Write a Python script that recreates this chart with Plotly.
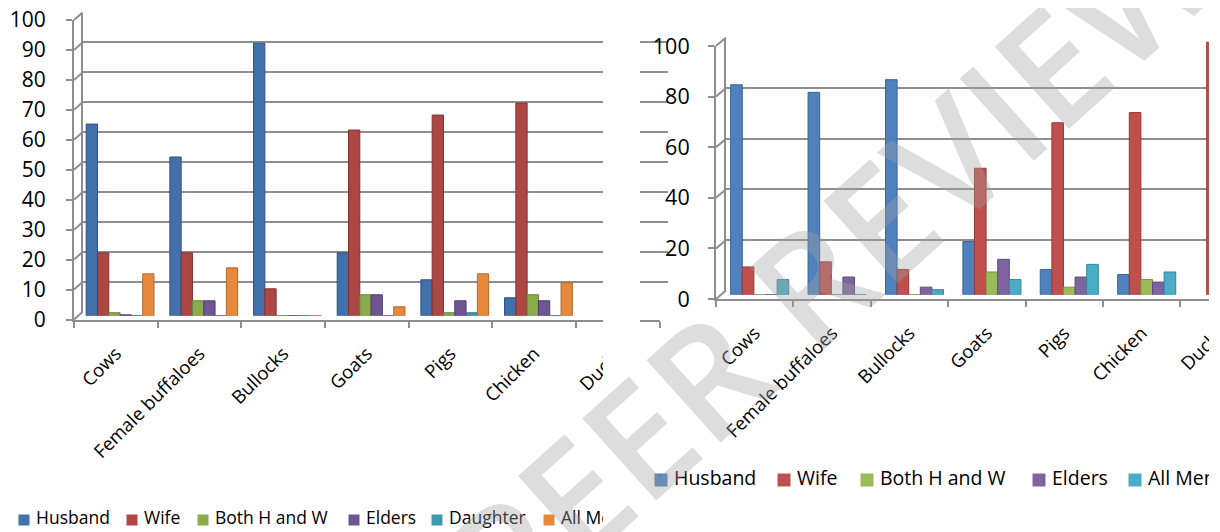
import plotly.graph_objects as go

# page (viewport) size and the body margin the page adds around the figure
PW, PH = 1220, 532
OFF = 8
W, H = PW - OFF, PH - OFF

# ---------------- data ----------------
categories = ["Cows", "Female buffaloes", "Bullocks", "Goats", "Pigs", "Chicken", "Ducks"]

left_series = ["Husband", "Wife", "Both H and W", "Elders", "Daughter", "All Members"]
left_husband = [64, 53, 91, 21, 12, 6, None]
left_wife = [21, 21, 9, 62, 67, 71, None]
left_both = [1, 5, 0, 7, 1, 7, None]
left_elders = [0.3, 5, 0, 7, 5, 5, None]
left_daughter = [0, 0, 0, 0, 1, 0, None]
left_all = [14, 16, 0, 3, 14, 11, None]
left_values = [left_husband, left_wife, left_both, left_elders, left_daughter, left_all]

right_series = ["Husband", "Wife", "Both H and W", "Elders", "All Members"]
right_husband = [83, 80, 85, 21, 10, 8, None]
right_wife = [11, 13, 10, 50, 68, 72, 100]
right_both = [0, 0, 0, 9, 3, 6, None]
right_elders = [0, 7, 3, 14, 7, 5, None]
right_all = [6, 0, 2, 6, 12, 9, None]
right_values = [right_husband, right_wife, right_both, right_elders, right_all]

left_ticks = list(range(0, 101, 10))
right_ticks = list(range(0, 101, 20))

# ---------------- style ----------------
left_colors = ["#4270AB", "#AD4743", "#8AAA4C", "#6F5594", "#3E9AB3", "#E5893C"]
left_edges = ["#2E5285", "#833230", "#66823A", "#513E70", "#2C7489", "#B5692B"]
right_colors = ["#4F81BD", "#C0504D", "#9BBB59", "#8064A2", "#4BACC6"]
right_edges = ["#3A6494", "#963B38", "#789346", "#5F4A7C", "#36869B"]

GRID = "#8E8E8E"
FONT = "Open Sans"


def fx(px):
    return min(max((px - OFF) / W, 0.0), 1.0)


def fy(py):
    return min(max(1 - (py - OFF) / H, 0.0), 1.0)


def ref(n, kind):
    return kind if n == 1 else f"{kind}{n}"


def axkey(n, kind):
    return f"{kind}axis" if n == 1 else f"{kind}axis{n}"


fig = go.Figure()
layout_axes = {}
shapes = []


def build_chart(n0, x0_front, cat_w, y0_front, y100_front, dx, dy, ticks,
                series, values, colors, edges, bar_w, tick_font, cat_font, y_standoff, x_standoff):
    ncat = len(categories)
    parts = {"front": (n0, 0.0, 0.0), "back": (n0 + 1, dx, dy), "mid": (n0 + 2, dx / 2, dy / 2)}
    for key, (n, ox, oy) in parts.items():
        xs = x0_front + ox
        xe = min(xs + ncat * cat_w, PW)
        rng_end = -0.5 + (xe - xs) / cat_w
        y0 = y0_front + oy
        y100 = y100_front + oy
        xa = dict(domain=[fx(xs), fx(xe)], range=[-0.5, rng_end], type="category",
                  categoryorder="array", categoryarray=categories, automargin=False,
                  anchor=ref(n, "y"), fixedrange=True)
        ya = dict(domain=[fy(y0), fy(y100)], range=[0, 100], anchor=ref(n, "x"),
                  fixedrange=True, zeroline=False, automargin=False)
        if key == "front":
            xa.update(showline=True, linecolor=GRID, linewidth=2, ticks="outside",
                      tickson="boundaries", ticklen=6, tickwidth=2, tickcolor=GRID,
                      tickangle=-45, showgrid=False, ticklabeloverflow="allow",
                      ticklabelstandoff=x_standoff,
                      tickfont=dict(family=FONT, size=cat_font, color="#000000"))
            ya.update(showline=True, linecolor=GRID, linewidth=2, ticks="outside",
                      ticklen=6, tickwidth=2, tickcolor=GRID, showgrid=False,
                      tickvals=ticks, ticklabelstandoff=y_standoff,
                      ticklabeloverflow="allow",
                      tickfont=dict(family=FONT, size=tick_font, color="#000000"))
            fig.add_trace(go.Scatter(x=categories, y=[0] * ncat, mode="markers",
                                     marker=dict(opacity=0), hoverinfo="skip",
                                     showlegend=False, xaxis=ref(n, "x"), yaxis=ref(n, "y")))
        elif key == "back":
            xa.update(visible=False)
            ya.update(showline=True, linecolor=GRID, linewidth=2, showgrid=True,
                      gridcolor=GRID, gridwidth=2, tickvals=ticks, showticklabels=False,
                      ticks="")
            fig.add_trace(go.Scatter(x=categories, y=[0] * ncat, mode="markers",
                                     marker=dict(opacity=0), hoverinfo="skip",
                                     showlegend=False, xaxis=ref(n, "x"), yaxis=ref(n, "y")))
        else:
            xa.update(visible=False)
            ya.update(visible=False)
            ns = len(series)
            for i, (name, vals) in enumerate(zip(series, values)):
                fig.add_trace(go.Bar(
                    x=categories, y=vals, name=name, showlegend=False,
                    width=bar_w, offset=-ns * bar_w / 2 + i * bar_w,
                    marker=dict(color=colors[i], line=dict(color=edges[i], width=1)),
                    xaxis=ref(n, "x"), yaxis=ref(n, "y")))
        layout_axes[axkey(n, "x")] = xa
        layout_axes[axkey(n, "y")] = ya
    # 3D wall connectors from the front axis to the back wall
    unit = (y0_front - y100_front) / 100.0
    for v in ticks:
        yf = y0_front - v * unit
        shapes.append(dict(type="line", xref="paper", yref="paper",
                           x0=fx(x0_front), y0=fy(yf), x1=fx(x0_front + dx), y1=fy(yf + dy),
                           line=dict(color=GRID, width=2), layer="above"))


build_chart(1, 74, 83.67, 319.5, 20, 8.5, -7.5, left_ticks, left_series, left_values,
            left_colors, left_edges, 0.135, 21, 18.5, 16, 14)
build_chart(4, 716, 77.4, 299, 46, 10, -8.5, right_ticks, right_series, right_values,
            right_colors, right_edges, 0.15, 21.5, 18.5, 14, 14)


# ---------------- hand-made legends (clipped like the cropped source) ----------------
def build_legend(n, x_start, x_end, y_center, names, colors, text_x, sq_offset, sq_size, fsize):
    y_lo = min(y_center + 14, PH)
    y_hi = y_center - 14
    layout_axes[axkey(n, "x")] = dict(domain=[fx(x_start), fx(x_end)], range=[x_start, x_end],
                                      visible=False, fixedrange=True, anchor=ref(n, "y"),
                                      automargin=False)
    layout_axes[axkey(n, "y")] = dict(domain=[fy(y_lo), fy(y_hi)],
                                      range=[y_lo, y_hi], visible=False,
                                      fixedrange=True, anchor=ref(n, "x"), automargin=False)
    fig.add_trace(go.Scatter(x=[t - sq_offset for t in text_x], y=[y_center] * len(names),
                             mode="markers", marker=dict(symbol="square", size=sq_size, color=colors,
                                                         line=dict(width=0)),
                             hoverinfo="skip", showlegend=False, cliponaxis=True,
                             xaxis=ref(n, "x"), yaxis=ref(n, "y")))
    fig.add_trace(go.Scatter(x=text_x, y=[y_center] * len(names), mode="text", text=names,
                             textposition="middle right",
                             textfont=dict(family=FONT, size=fsize, color="#000000"),
                             hoverinfo="skip", showlegend=False, cliponaxis=True,
                             xaxis=ref(n, "x"), yaxis=ref(n, "y")))


left_legend_text_x = [36, 144, 215, 366, 449, 561]
right_legend_text_x = [674, 797, 880, 1052, 1148]
build_legend(7, OFF, 603, 520, left_series, left_colors, left_legend_text_x, 12, 11, 17.5)
build_legend(8, 640, 1209, 480, right_series, right_colors, right_legend_text_x, 13, 13, 19.5)

# crop masks (the source is two cropped chart images)
shapes.append(dict(type="rect", xref="paper", yref="paper", x0=fx(603), x1=fx(640), y0=0, y1=1,
                   fillcolor="white", line=dict(width=0), layer="above"))
shapes.append(dict(type="rect", xref="paper", yref="paper", x0=fx(1209), x1=1, y0=0, y1=1,
                   fillcolor="white", line=dict(width=0), layer="above"))

fig.update_layout(
    width=W, height=H, autosize=False,
    margin=dict(l=0, r=0, t=0, b=0, pad=0, autoexpand=False),
    paper_bgcolor="white", plot_bgcolor="rgba(0,0,0,0)",
    showlegend=False, shapes=shapes,
    annotations=[dict(text="PEER REVIEW", xref="paper", yref="paper", x=fx(830), y=fy(262),
                      xanchor="center", yanchor="middle",
                      showarrow=False, textangle=-42,
                      font=dict(family=FONT, size=155, weight=600,
                                color="rgba(160,160,160,0.36)"))],
    **layout_axes,
)

fig.write_html("out.html")
